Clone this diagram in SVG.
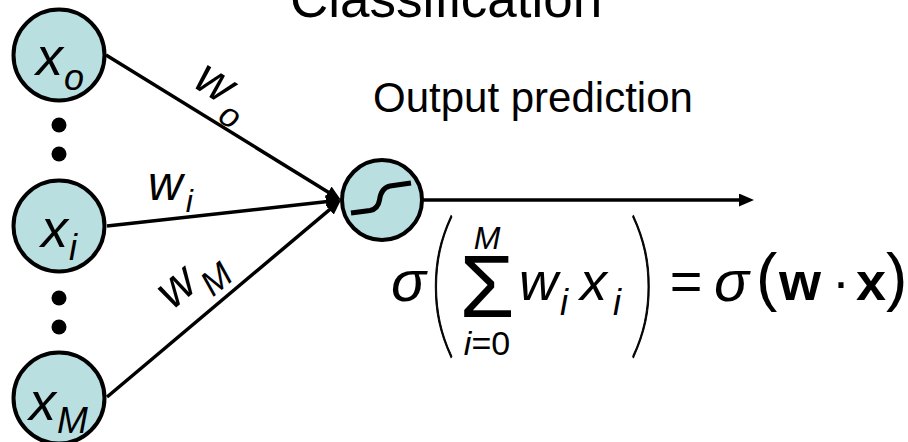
<svg xmlns="http://www.w3.org/2000/svg" width="908" height="442" viewBox="0 0 908 442">
<defs>
<style>
.node{fill:#b9dfe1;stroke:#000;stroke-width:4}
.edge{stroke:#000;stroke-width:3.5;fill:none}
.t{font-family:"Liberation Sans",Arial,sans-serif;fill:#000}
.it{font-style:italic}
.dot{fill:#000}
.paren{font-family:Lato,"Noto Sans",sans-serif;font-weight:100;fill:#000;stroke:#000;stroke-width:1.4}
</style>
<marker id="ah" markerUnits="userSpaceOnUse" markerWidth="15" markerHeight="13" refX="4" refY="6.5" orient="auto">
<path d="M0,0 L15,6.5 L0,13 z" fill="#000"/>
</marker>
</defs>
<rect width="908" height="442" fill="#fff"/>
<text class="t" x="290" y="17" font-size="53">Classification</text>
<text class="t" x="373" y="112" font-size="42">Output prediction</text>

<g id="connectors">
<line class="edge" x1="106" y1="55" x2="331.6" y2="194.2" marker-end="url(#ah)"/>
<line class="edge" x1="107" y1="226" x2="330" y2="201.2" marker-end="url(#ah)"/>
<line class="edge" x1="107" y1="397" x2="332.6" y2="207.1" marker-end="url(#ah)"/>
<line class="edge" x1="422" y1="200" x2="743" y2="200" marker-end="url(#ah)"/>
<text class="t it" font-size="50" transform="translate(191.5,86) rotate(32)">w<tspan dx="3" dy="16" font-size="34">o</tspan></text>
<text class="t it" font-size="48" x="148" y="200">w<tspan dx="3" dy="12" font-size="32">i</tspan></text>
<text class="t it" font-size="50" transform="translate(172.5,310.5) rotate(-40)">w<tspan dx="3" dy="16" font-size="35">M</tspan></text>
</g>

<g id="node-x0">
<circle class="node" cx="59" cy="55" r="45.5"/>
<text class="t it" x="36" y="75" font-size="54">x<tspan dx="1" dy="15" font-size="36">o</tspan></text>
</g>
<g id="dots-top">
<circle class="dot" cx="59" cy="125" r="7.5"/>
<circle class="dot" cx="59" cy="154" r="7.5"/>
</g>
<g id="node-xi">
<circle class="node" cx="59" cy="226" r="45.5"/>
<text class="t it" x="41" y="247" font-size="54">x<tspan dx="1" dy="13" font-size="36">i</tspan></text>
</g>
<g id="dots-bottom">
<circle class="dot" cx="59" cy="298" r="7.5"/>
<circle class="dot" cx="59" cy="327" r="7.5"/>
</g>
<g id="node-xM">
<circle class="node" cx="59" cy="398" r="45.5"/>
<text class="t it" x="29" y="420" font-size="54">x<tspan dx="1" dy="13" font-size="37">M</tspan></text>
</g>
<g id="node-sigmoid">
<circle class="node" cx="382" cy="200" r="40"/>
<path d="M351,213 L370,210.5 Q378,209 379.5,200 Q381,188 390,186 L411,183" fill="none" stroke="#000" stroke-width="5"/>
</g>

<g id="formula">
<text class="t it" x="391" y="301" font-size="58">σ</text>
<text class="paren" font-size="163" transform="translate(428,338) scale(0.7,1)">(</text>
<text class="t it" x="487" y="249" font-size="32" text-anchor="middle">M</text>
<text class="t" x="487" y="317" font-size="89" text-anchor="middle">Σ</text>
<text class="t" x="487" y="355" font-size="34" text-anchor="middle"><tspan font-style="italic">i</tspan>=0</text>
<text class="t it" x="519" y="300" font-size="54">w<tspan dx="2" dy="15" font-size="36">i</tspan></text>
<text class="t it" x="580" y="300" font-size="54">x<tspan dx="6" dy="15" font-size="36">i</tspan></text>
<text class="paren" font-size="163" transform="translate(628,338) scale(0.7,1)">)</text>
<text class="t" x="686" y="300" font-size="56" text-anchor="middle">=</text>
<text class="t it" x="714" y="301" font-size="58">σ</text>
<text class="t" x="756" y="299" font-size="64">(</text>
<text class="t" x="779" y="300" font-size="54" font-weight="bold">w</text>
<text class="t" x="841" y="300" font-size="54" text-anchor="middle">·</text>
<text class="t" x="856" y="300" font-size="54" font-weight="bold">x</text>
<text class="t" x="886" y="299" font-size="64">)</text>
</g>
</svg>
